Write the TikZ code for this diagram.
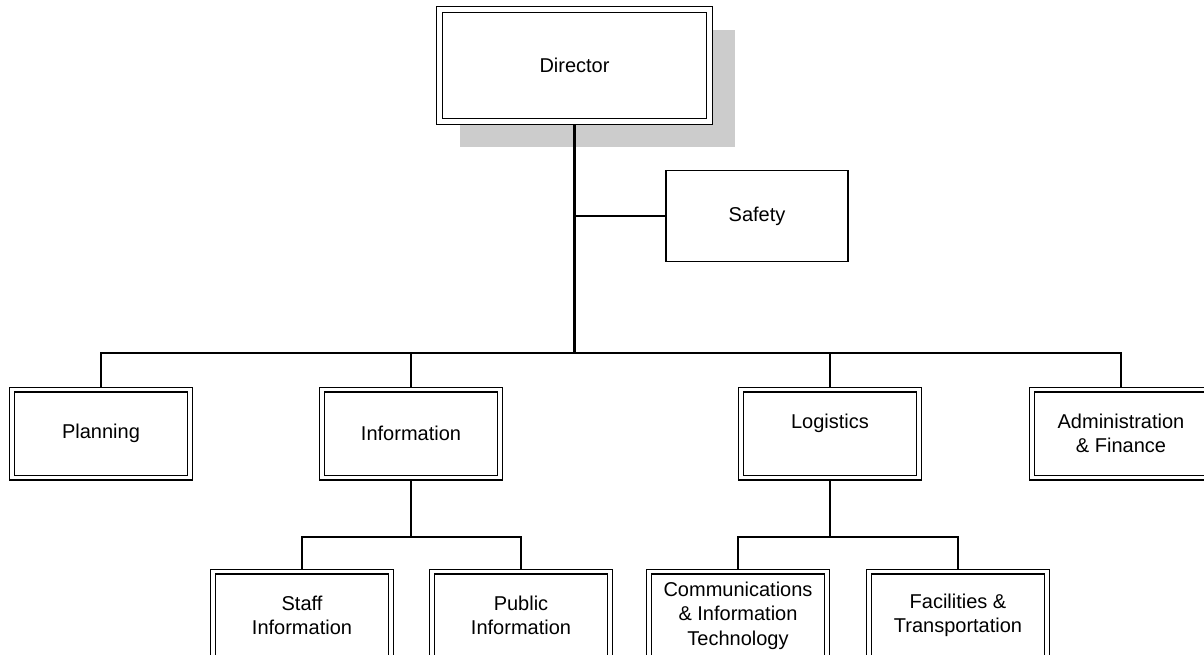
\documentclass[tikz,border=0pt]{standalone}
\usepackage{fontspec}
\setmainfont{Liberation Sans}
\usetikzlibrary{backgrounds}
\begin{document}
\begin{tikzpicture}[x=1pt,y=-1pt,
  dbox/.style={draw, fill=white, double, line width=1.35pt, double distance=3.3pt,
    minimum width=178pt, minimum height=88pt, inner sep=0pt, align=center,
    font=\fontsize{20}{24.5}\selectfont},
  sbox/.style={draw, fill=white, line width=1.6pt, minimum width=182pt, minimum height=91pt,
    inner sep=0pt, align=center, font=\fontsize{20}{24.5}\selectfont},
  conn/.style={line width=1.6pt},
  trunk/.style={line width=2.2pt}]
\useasboundingbox (0,0) rectangle (1204,655);
\clip (0,0) rectangle (1204,655);
% nodes
\node[dbox, minimum width=270pt, minimum height=112pt, double distance=4.2pt] (dir) at (574.5,65.5) {Director};
\node[sbox] (safety) at (757,216) {Safety};
\node[dbox] (plan) at (101,433.5) {Planning};
\node[dbox] (info) at (411,433.5) {Information};
\node[dbox] (log) at (830,433.5) {Logistics\\\mbox{}};
\node[dbox] (admin) at (1121,433.5) {Administration\\\& Finance};
\node[dbox] (staff) at (302,615.5) {Staff\\Information};
\node[dbox] (public) at (521,615.5) {Public\\Information};
\node[dbox] (comm) at (738,615.5) {Communications\\\& Information\\Technology};
\node[dbox] (fac) at (958,615.5) {Facilities \&\\Transportation};
\coordinate (bus) at (574.5,353);
\coordinate (sj) at (574.5,216);
\coordinate (ibus) at (411,537);
\coordinate (lbus) at (830,537);
\begin{scope}[on background layer]
  \fill[gray!40] (460,30) rectangle (735,147);
  \draw[trunk] (dir) -- (bus);
  \draw[conn] (sj) -- (safety);
  \draw[conn] (bus) -| (plan);
  \draw[conn] (bus) -| (info);
  \draw[conn] (bus) -| (log);
  \draw[conn] (bus) -| (admin);
  \draw[conn] (info) -- (ibus);
  \draw[conn] (ibus) -| (staff);
  \draw[conn] (ibus) -| (public);
  \draw[conn] (log) -- (lbus);
  \draw[conn] (lbus) -| (comm);
  \draw[conn] (lbus) -| (fac);
\end{scope}
\end{tikzpicture}
\end{document}
